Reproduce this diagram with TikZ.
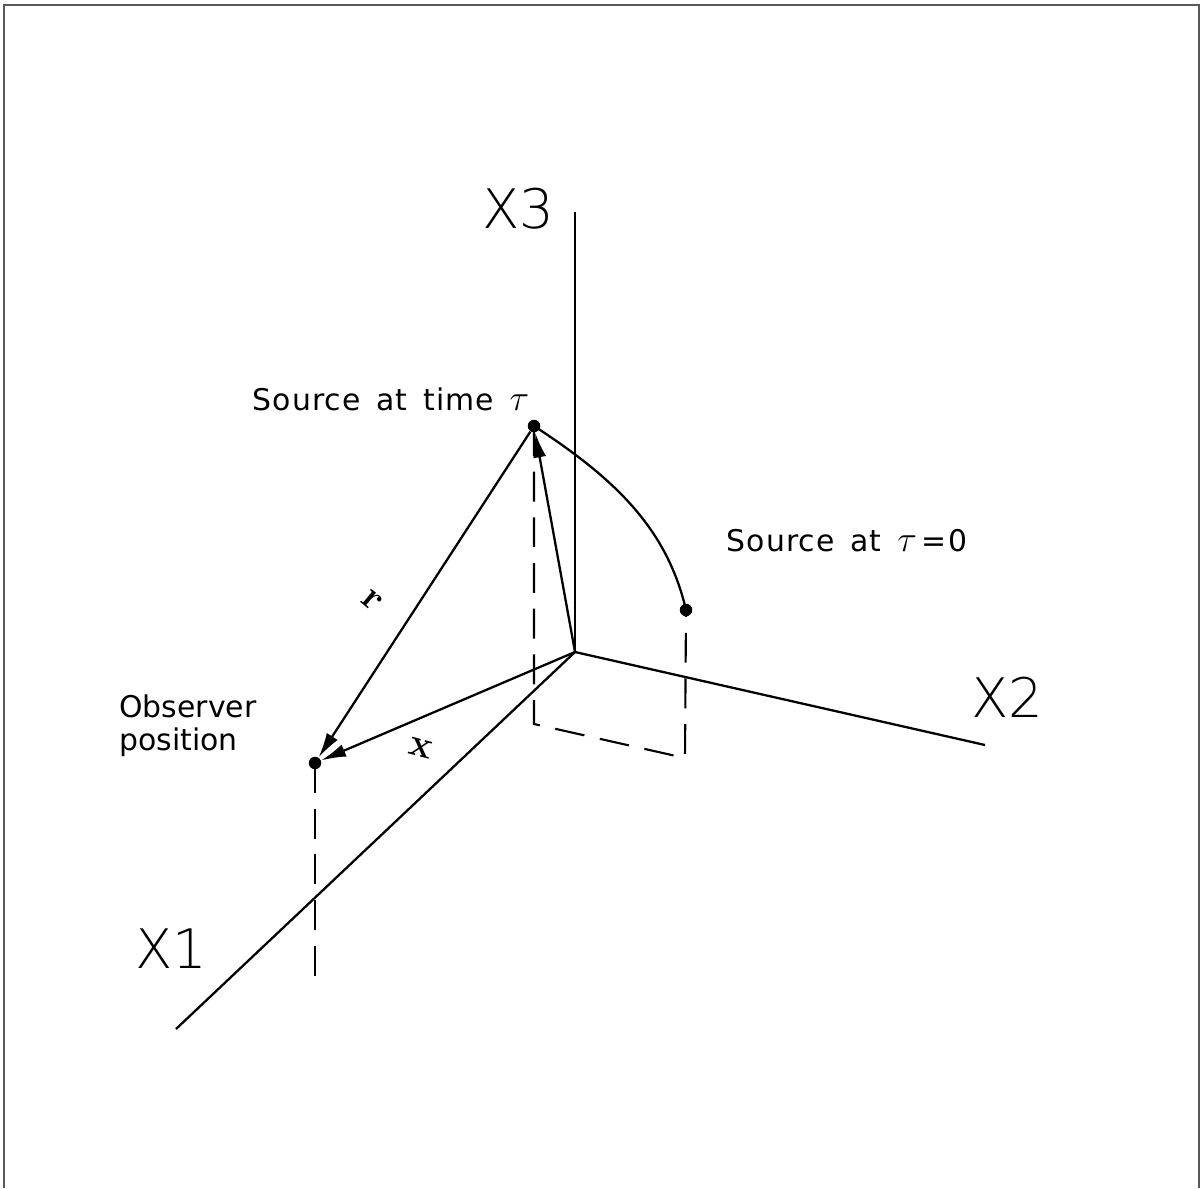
\documentclass[tikz,border=0pt]{standalone}
\usepackage{fontspec}
\newfontfamily\labelfont{DejaVu Sans}
\newfontfamily\widefont[LetterSpace=3.5,WordSpace=1.5]{DejaVu Sans}
\newfontfamily\thinfont{DejaVu Sans ExtraLight}
\usetikzlibrary{arrows.meta}
\newcommand{\bigtau}{{\fontsize{22}{24}\selectfont$\tau$}}
\begin{document}
\begin{tikzpicture}[x=0.02cm,y=-0.02cm,
  axis/.style={line width=1.3pt},
  dashln/.style={line width=1.2pt, dash pattern=on 17pt off 9pt},
  vec/.style={line width=1.3pt,-{Latex[length=5mm,width=2.6mm]}},
  dot/.style={circle,fill,inner sep=0pt,minimum size=0.25cm},
  lbl/.style={font=\labelfont\fontsize{17}{19}\selectfont, align=left},
  wlbl/.style={font=\widefont\fontsize{17}{19}\selectfont},
  axlbl/.style={font=\thinfont\fontsize{31}{36}\selectfont},
  bvec/.style={font=\fontsize{22}{24}\selectfont\bfseries}]
\useasboundingbox (0,0) rectangle (1204,1188);
\draw[line width=0.7pt, black!65] (4,1188) -- (4,5) -- (1199,5) -- (1199,1188);

\coordinate (O) at (575,652);
\coordinate (X3) at (575,212);
\coordinate (X2) at (985,745);
\coordinate (X1) at (176,1029);
\coordinate (Sf) at (534,724);
\coordinate (S0f) at (685,758);
\coordinate (Pf) at (315,989);
\node[dot] (S) at (534,426) {};
\node[dot] (S0) at (686,610) {};
\node[dot] (P) at (315,763) {};

% axes
\draw[axis] (X1) -- (O) -- (X2);
\draw[line width=1pt] (O) -- (X3);

% dashed projections
\draw[dashln] (S.center) -- (Sf) -- (S0f) -- (S0.center);
\draw[dashln] (P.center) -- (Pf);

% trajectory
\draw[axis] (S.center) .. controls (614,478) and (667,528) .. (S0.center);

% vectors
\draw[vec] (O) -- (S);
\draw[vec] (S) -- (P);
\draw[vec] (O) -- (P);

% labels
\node[wlbl] (lS) at (391,399) {Source at time \bigtau};
\node[wlbl] (lS0) at (847,541) {Source at\ \bigtau\,=0};
\node[lbl] (lP) at (188,726) {Observer\\position};
\node[axlbl] (l3) at (518,209) {X3};
\node[axlbl] (l2) at (1007,697) {X2};
\node[axlbl] (l1) at (171,949) {X1};
\node[bvec, rotate=-40] (lr) at (372,601) {r};
\node[bvec, rotate=-15] (lx) at (421,748) {x};
\end{tikzpicture}
\end{document}
